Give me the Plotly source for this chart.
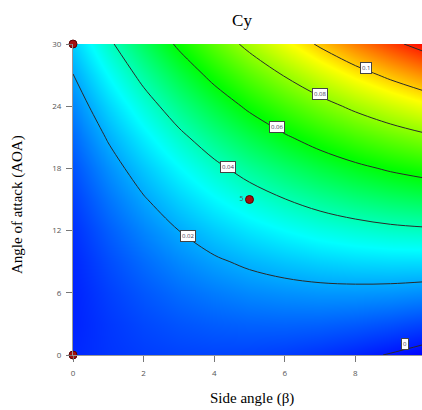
import plotly.graph_objects as go

# Side angle (beta) grid and angle of attack (AOA) grid
beta = [0, 1, 2, 3, 4, 5, 6, 7, 8, 9, 10]
aoa = [0, 3, 6, 9, 12, 15, 18, 21, 24, 27, 30]

# Cy values, one row per AOA value
cy = [
    [0.0023, 0.0040, 0.0052, 0.0059, 0.0061, 0.0058, 0.0050, 0.0036, 0.0018, -0.0005, -0.0033],
    [0.0016, 0.0044, 0.0067, 0.0084, 0.0096, 0.0103, 0.0105, 0.0102, 0.0093, 0.0079, 0.0060],
    [0.0016, 0.0055, 0.0088, 0.0116, 0.0138, 0.0156, 0.0167, 0.0174, 0.0175, 0.0171, 0.0161],
    [0.0022, 0.0072, 0.0116, 0.0155, 0.0188, 0.0215, 0.0237, 0.0254, 0.0265, 0.0270, 0.0270],
    [0.0035, 0.0096, 0.0151, 0.0200, 0.0244, 0.0282, 0.0314, 0.0341, 0.0361, 0.0377, 0.0386],
    [0.0055, 0.0127, 0.0193, 0.0253, 0.0307, 0.0355, 0.0398, 0.0435, 0.0466, 0.0491, 0.0510],
    [0.0081, 0.0164, 0.0241, 0.0312, 0.0377, 0.0436, 0.0489, 0.0536, 0.0577, 0.0613, 0.0642],
    [0.0113, 0.0208, 0.0296, 0.0378, 0.0454, 0.0524, 0.0588, 0.0645, 0.0697, 0.0742, 0.0781],
    [0.0152, 0.0258, 0.0358, 0.0451, 0.0538, 0.0619, 0.0693, 0.0761, 0.0823, 0.0878, 0.0927],
    [0.0198, 0.0316, 0.0427, 0.0531, 0.0629, 0.0721, 0.0806, 0.0885, 0.0957, 0.1022, 0.1082],
    [0.0250, 0.0380, 0.0502, 0.0618, 0.0727, 0.0830, 0.0926, 0.1015, 0.1098, 0.1174, 0.1243],
]

# Contour label texts and where they sit
label_text = ["0.1", "0.08", "0.06", "0.04", "0.02", "0"]
label_beta = [8.3, 7.0, 5.78, 4.39, 3.26, 9.4]
label_aoa = [27.7, 25.2, 22.0, 18.1, 11.5, 1.06]

# Design points
pt_beta = [0, 0, 5]
pt_aoa = [0, 30, 15]
pt_text = ["", "", "5"]

x_ticks = [0, 2, 4, 6, 8, 10]
y_ticks = [0, 6, 12, 18, 24, 30]

colorscale = [[0, '#0000ff'], [0.27, '#00ffff'], [0.50, '#00ff00'],
              [0.76, '#ffff00'], [1, '#ff0000']]

fig = go.Figure()
fig.add_trace(go.Contour(
    x=beta, y=aoa, z=cy,
    contours=dict(coloring='heatmap', start=0, end=0.12, size=0.02),
    colorscale=colorscale, zmin=-0.003, zmax=0.125, showscale=False,
    line=dict(color='#2a2a2a', width=1, smoothing=1.0),
    hoverinfo='skip'))

fig.add_trace(go.Scatter(
    x=pt_beta, y=pt_aoa, mode='markers+text', text=pt_text,
    textposition='middle left', textfont=dict(size=7, color='#555', family='Open Sans'),
    marker=dict(size=8, color='#a41010', line=dict(color='#5a0000', width=1)),
    cliponaxis=False, showlegend=False))

for t, bx, ay in zip(label_text, label_beta, label_aoa):
    fig.add_annotation(x=bx, y=ay, text=t, showarrow=False,
                       font=dict(size=6, color='#3a3a55', family='Open Sans'),
                       bgcolor='white', bordercolor='#444', borderwidth=1, borderpad=1)

fig.add_annotation(text="Side angle (β)", xref='paper', yref='paper',
                   x=(252 - 73) / 349, y=(355 - 398) / 311, showarrow=False,
                   xanchor='center', yanchor='middle',
                   font=dict(family='Liberation Serif', size=15, color='black'))
fig.add_annotation(text="Angle of attack (AOA)", xref='paper', yref='paper',
                   x=(18 - 73) / 349, y=(355 - 205) / 311, showarrow=False, textangle=-90,
                   xanchor='center', yanchor='middle',
                   font=dict(family='Liberation Serif', size=15, color='black'))

fig.update_layout(
    width=422, height=410,
    margin=dict(l=73, r=0, t=44, b=55),
    paper_bgcolor='white', plot_bgcolor='white',
    title=dict(text="Cy", x=242 / 422, xref='container', xanchor='center',
               y=1 - 20 / 410, yref='container', yanchor='middle',
               font=dict(family='Liberation Serif', size=17, color='black')),
    showlegend=False)

fig.update_xaxes(range=[0, 9.887], tickvals=x_ticks, ticks='outside', ticklen=6,
                 tickcolor='#777', showline=True, linecolor='#999', linewidth=1,
                 showgrid=False, zeroline=False, ticklabelstandoff=4,
                 tickfont=dict(size=8, color='#555', family='Open Sans'))
fig.update_yaxes(range=[0, 30], tickvals=y_ticks, ticks='outside', ticklen=6,
                 tickcolor='#777', showline=True, linecolor='#999', linewidth=1,
                 showgrid=False, zeroline=False, ticklabelstandoff=3,
                 tickfont=dict(size=8, color='#555', family='Open Sans'))

fig.write_html("out.html")
